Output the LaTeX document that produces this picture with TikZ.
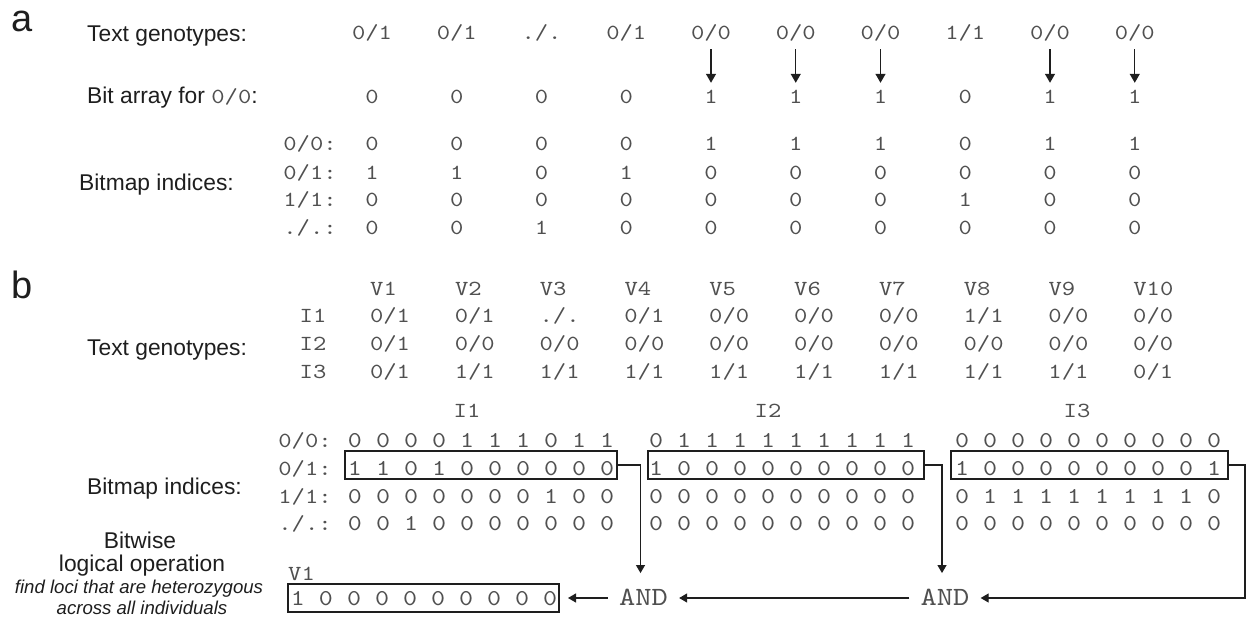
\documentclass[tikz,border=0pt]{standalone}
\usepackage{fontspec}
\setmainfont{Liberation Sans}
\newfontfamily\cour{lmmono10-regular.otf}[FakeStretch=1.18]
\usetikzlibrary{arrows.meta}
\definecolor{monogray}{RGB}{80,80,80}
\definecolor{ink}{RGB}{30,30,30}
\begin{document}
\begin{tikzpicture}[x=1pt,y=-1pt,
  mono/.style={font=\fontsize{21.5}{26}\cour, text=monogray, inner sep=0pt, anchor=base, text height=15pt, text depth=4pt},
  bits/.style={font=\fontsize{22.6}{27}\cour, text=monogray, inner sep=0pt, anchor=base},
  sans/.style={font=\fontsize{22.8}{27}\selectfont, text=ink, inner sep=0pt},
  ital/.style={font=\fontsize{18.6}{22}\selectfont\itshape, text=ink, inner sep=0pt},
  big/.style={font=\fontsize{38}{40}\selectfont, text=ink, inner sep=0pt},
  andop/.style={font=\fontsize{26.3}{30}\cour, text=monogray, inner xsep=11pt, inner ysep=0pt, text height=15.5pt, text depth=0pt},
  bitbox/.style={draw=ink, line width=2pt, minimum height=28pt, inner sep=0pt},
  arra/.style={draw=ink, line width=1.3pt, -{Triangle[width=10pt,length=9pt]}},
  conn/.style={draw=ink, line width=1.2pt, -{Triangle[width=9pt,length=8pt]}}]
\useasboundingbox (0,0) rectangle (1252,631);

% ---------------- panel a ----------------
\node[big, anchor=base west] (la) at (11,32) {a};
\node[sans, anchor=base west] (ta) at (87,41.5) {Text genotypes:};
\node[sans, anchor=base west] (bit) at (87,104) {Bit array for {\fontsize{21.5}{26}\cour\color{monogray}0/0}:};
\node[sans, anchor=base west] (bma) at (79,191) {Bitmap indices:};

\foreach \p/\q [count=\i from 0] in {0/1,0/1,./.,0/1,0/0,0/0,0/0,1/1,0/0,0/0}
  \node[mono] (ga\i) at ({372+84.75*\i},40) {\p/\q};
\foreach \b [count=\i from 0] in {0,0,0,0,1,1,1,0,1,1}
  \node[mono] (ba\i) at ({372+84.75*\i},104) {\b};
\foreach \i in {4,5,6,8,9}
  \draw[arra, shorten <=5pt, shorten >=6pt] (ga\i) -- (ba\i);

\node[mono] (al1) at (310,151) {0/0:};
\node[mono] (al2) at (310,179) {0/1:};
\node[mono] (al3) at (310,206) {1/1:};
\node[mono] (al4) at (310,234) {./.:};
\foreach \b [count=\i from 0] in {0,0,0,0,1,1,1,0,1,1}
  \node[mono] (am1-\i) at ({372+84.75*\i},151) {\b};
\foreach \b [count=\i from 0] in {1,1,0,1,0,0,0,0,0,0}
  \node[mono] (am2-\i) at ({372+84.75*\i},179) {\b};
\foreach \b [count=\i from 0] in {0,0,0,0,0,0,0,1,0,0}
  \node[mono] (am3-\i) at ({372+84.75*\i},206) {\b};
\foreach \b [count=\i from 0] in {0,0,1,0,0,0,0,0,0,0}
  \node[mono] (am4-\i) at ({372+84.75*\i},234) {\b};

% ---------------- panel b ----------------
\node[big, anchor=base west] (lb) at (11,298) {b};
\node[sans, anchor=base west] (tb) at (87,355) {Text genotypes:};
\node[sans, anchor=base west] (bmb) at (87,494) {Bitmap indices:};
\node[sans, anchor=base] (bw1) at (140,548) {Bitwise};
\node[sans, anchor=base] (bw2) at (142,571) {logical operation};
\node[ital, anchor=base] (bw3) at (139,593) {find loci that are heterozygous};
\node[ital, anchor=base] (bw4) at (142,614) {across all individuals};

\foreach \i in {1,...,10}
  \node[mono, anchor=base west] (v\i) at ({390+84.8*(\i-1)-20},295) {V\i};
\node[mono] (i1) at (313,322) {I1};
\node[mono] (i2) at (313,350) {I2};
\node[mono] (i3) at (313,378) {I3};
\foreach \p/\q [count=\i from 0] in {0/1,0/1,./.,0/1,0/0,0/0,0/0,1/1,0/0,0/0}
  \node[mono] (g1-\i) at ({390+84.8*\i},322) {\p/\q};
\foreach \p/\q [count=\i from 0] in {0/1,0/0,0/0,0/0,0/0,0/0,0/0,0/0,0/0,0/0}
  \node[mono] (g2-\i) at ({390+84.8*\i},350) {\p/\q};
\foreach \p/\q [count=\i from 0] in {0/1,1/1,1/1,1/1,1/1,1/1,1/1,1/1,1/1,0/1}
  \node[mono] (g3-\i) at ({390+84.8*\i},378) {\p/\q};

\node[mono] (h1) at (467,417) {I1};
\node[mono] (h2) at (768,417) {I2};
\node[mono] (h3) at (1077,417) {I3};

\node[mono] (bl1) at (305,447) {0/0:};
\node[mono] (bl2) at (305,475) {0/1:};
\node[mono] (bl3) at (305,503) {1/1:};
\node[mono] (bl4) at (305,530) {./.:};

\node[bits] (r1a) at (481,447) {0 0 0 0 1 1 1 0 1 1};
\node[bits] (r1b) at (481,475) {1 1 0 1 0 0 0 0 0 0};
\node[bits] (r1c) at (481,503) {0 0 0 0 0 0 0 1 0 0};
\node[bits] (r1d) at (481,530) {0 0 1 0 0 0 0 0 0 0};
\node[bits] (r2a) at (782,447) {0 1 1 1 1 1 1 1 1 1};
\node[bits] (r2b) at (782,475) {1 0 0 0 0 0 0 0 0 0};
\node[bits] (r2c) at (782,503) {0 0 0 0 0 0 0 0 0 0};
\node[bits] (r2d) at (782,530) {0 0 0 0 0 0 0 0 0 0};
\node[bits] (r3a) at (1088,447) {0 0 0 0 0 0 0 0 0 0};
\node[bits] (r3b) at (1088,475) {1 0 0 0 0 0 0 0 0 1};
\node[bits] (r3c) at (1088,503) {0 1 1 1 1 1 1 1 1 0};
\node[bits] (r3d) at (1088,530) {0 0 0 0 0 0 0 0 0 0};

\node[bitbox, minimum width=272pt] (box1) at (481,465) {};
\node[bitbox, minimum width=276pt] (box2) at (786,465) {};
\node[bitbox, minimum width=277pt] (box3) at (1089.5,465) {};

\node[mono, anchor=base west] (vl) at (288,580) {V1};
\node[bits] (vr) at (424,605) {1 0 0 0 0 0 0 0 0 0};
\node[bitbox, minimum width=271pt] (boxv) at (423.5,598) {};

\node[andop] (and1) at (643.5,598) {AND};
\node[andop] (and2) at (945,598) {AND};

\draw[conn] (box1.east) -| ([xshift=-3pt,yshift=17pt]and1.north);
\draw[conn] (box2.east) -| ([xshift=-3pt,yshift=17pt]and2.north);
\draw[conn] (box3.east) -- ++(16,0) |- (and2.east);
\draw[conn] (and2.west) -- (and1.east);
\draw[conn, shorten >=8pt] (and1.west) -- (boxv.east);
\end{tikzpicture}
\end{document}
